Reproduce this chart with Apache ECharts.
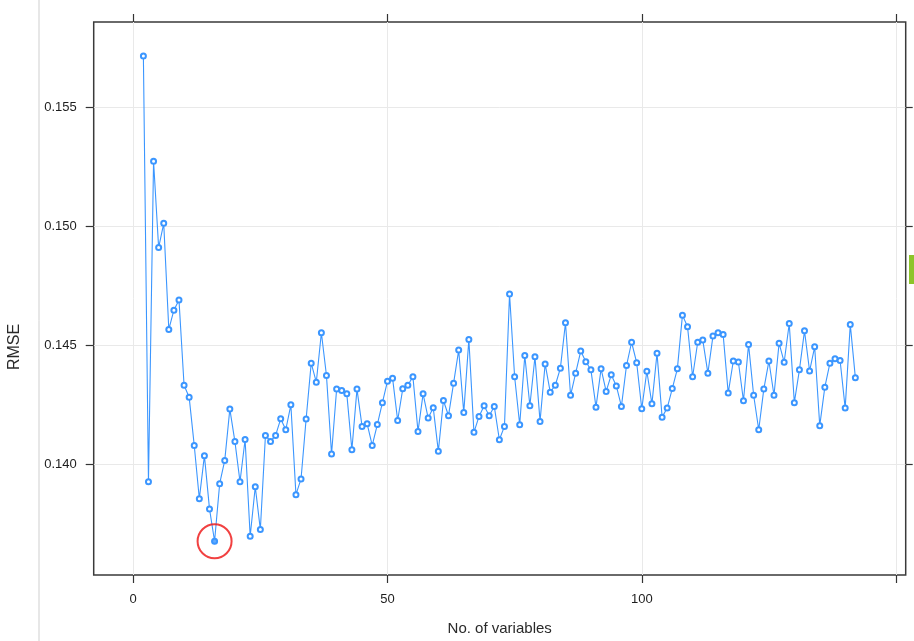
<!DOCTYPE html>
<html>
<head>
<meta charset="utf-8">
<script src="https://cdn.jsdelivr.net/npm/echarts@6/dist/echarts.min.js"></script>
<style>
  html, body { margin: 0; padding: 0; background: #ffffff; }
  #chart { width: 914px; height: 641px; }
</style>
</head>
<body>
<div id="chart"></div>
<script>
// Number of variables used by each model
const numVariables = [
  2, 3, 4, 5, 6, 7, 8, 9, 10, 11, 12, 13, 14, 15, 16, 17, 18, 19, 20, 21,
  22, 23, 24, 25, 26, 27, 28, 29, 30, 31, 32, 33, 34, 35, 36, 37, 38, 39, 40, 41,
  42, 43, 44, 45, 46, 47, 48, 49, 50, 51, 52, 53, 54, 55, 56, 57, 58, 59, 60, 61,
  62, 63, 64, 65, 66, 67, 68, 69, 70, 71, 72, 73, 74, 75, 76, 77, 78, 79, 80, 81,
  82, 83, 84, 85, 86, 87, 88, 89, 90, 91, 92, 93, 94, 95, 96, 97, 98, 99, 100, 101,
  102, 103, 104, 105, 106, 107, 108, 109, 110, 111, 112, 113, 114, 115, 116, 117, 118, 119, 120, 121,
  122, 123, 124, 125, 126, 127, 128, 129, 130, 131, 132, 133, 134, 135, 136, 137, 138, 139, 140, 141,
  142
];

// Cross-validated RMSE for each subset size
const rmseValues = [
  0.15716, 0.13925, 0.15273, 0.14910, 0.15012, 0.14566, 0.14647, 0.14690, 0.14331, 0.14281,
  0.14078, 0.13854, 0.14035, 0.13811, 0.13675, 0.13917, 0.14015, 0.14231, 0.14094, 0.13925,
  0.14103, 0.13696, 0.13904, 0.13724, 0.14120, 0.14095, 0.14120, 0.14190, 0.14144, 0.14249,
  0.13871, 0.13937, 0.14189, 0.14424, 0.14344, 0.14552, 0.14372, 0.14042, 0.14315, 0.14309,
  0.14295, 0.14060, 0.14315, 0.14158, 0.14169, 0.14078, 0.14166, 0.14258, 0.14348, 0.14361,
  0.14183, 0.14316, 0.14331, 0.14367, 0.14137, 0.14295, 0.14193, 0.14236, 0.14053, 0.14267,
  0.14203, 0.14340, 0.14479, 0.14216, 0.14524, 0.14133, 0.14200, 0.14245, 0.14203, 0.14242,
  0.14102, 0.14158, 0.14715, 0.14367, 0.14165, 0.14456, 0.14245, 0.14451, 0.14179, 0.14421,
  0.14302, 0.14331, 0.14403, 0.14594, 0.14289, 0.14382, 0.14475, 0.14430, 0.14396, 0.14239,
  0.14400, 0.14305, 0.14375, 0.14328, 0.14242, 0.14414, 0.14512, 0.14426, 0.14232, 0.14390,
  0.14253, 0.14466, 0.14197, 0.14235, 0.14317, 0.14400, 0.14626, 0.14577, 0.14367, 0.14512,
  0.14521, 0.14382, 0.14538, 0.14552, 0.14545, 0.14298, 0.14433, 0.14429, 0.14266, 0.14503,
  0.14289, 0.14144, 0.14315, 0.14433, 0.14289, 0.14508, 0.14428, 0.14591, 0.14258, 0.14396,
  0.14560, 0.14391, 0.14493, 0.14161, 0.14323, 0.14424, 0.14443, 0.14435, 0.14235, 0.14587,
  0.14363
];

// Axis ticks and labels
const xTickValues = [0, 50, 100, 150];
const xLabelValues = [0, 50, 100];
const yTickValues = [0.140, 0.145, 0.150, 0.155];

const xMin = -7.77, xMax = 151.9;
const yMin = 0.13533, yMax = 0.15859;

const lineColor = '#3b96ff';
const fontFamily = '"Liberation Sans", Arial, sans-serif';

const points = numVariables.map((n, i) => [n, rmseValues[i]]);

// Best (lowest RMSE) subset size
let bestIdx = 0;
rmseValues.forEach((v, i) => { if (v < rmseValues[bestIdx]) bestIdx = i; });
const bestPoint = [numVariables[bestIdx], rmseValues[bestIdx]];

const chart = echarts.init(document.getElementById('chart'), null, { renderer: 'canvas' });

const tickStyle = { color: '#333333', width: 1.2 };

chart.setOption({
  animation: false,
  backgroundColor: '#ffffff',
  grid: {
    left: 93.7, top: 22, right: 8.3, bottom: 65,
    show: true, borderColor: '#3a3a3a', borderWidth: 1.5, backgroundColor: '#ffffff'
  },
  xAxis: [
    {
      type: 'value', position: 'bottom', min: xMin, max: xMax,
      axisLine: { show: false, onZero: false },
      axisTick: { show: true, inside: false, length: 8, lineStyle: tickStyle, customValues: xTickValues },
      axisLabel: { show: true, customValues: xLabelValues, margin: 18, fontSize: 13, color: '#1e1e1e', fontFamily },
      splitLine: { show: true, lineStyle: { color: '#e9e9e9', width: 1 } },
      name: 'No. of variables', nameLocation: 'middle', nameGap: 46,
      nameTextStyle: { fontSize: 15, color: '#2a2a2a', fontFamily }
    },
    {
      type: 'value', position: 'top', min: xMin, max: xMax,
      axisLine: { show: false, onZero: false },
      axisTick: { show: true, inside: false, length: 8, lineStyle: tickStyle, customValues: xTickValues },
      axisLabel: { show: false },
      splitLine: { show: false }
    }
  ],
  yAxis: [
    {
      type: 'value', position: 'left', min: yMin, max: yMax,
      axisLine: { show: false, onZero: false },
      axisTick: { show: true, inside: false, length: 8, lineStyle: tickStyle, customValues: yTickValues },
      axisLabel: {
        show: true, customValues: yTickValues, margin: 17, fontSize: 13, color: '#1e1e1e', fontFamily,
        formatter: v => v.toFixed(3)
      },
      splitLine: { show: true, lineStyle: { color: '#e9e9e9', width: 1 } }
    },
    {
      type: 'value', position: 'right', min: yMin, max: yMax,
      axisLine: { show: false, onZero: false },
      axisTick: { show: true, inside: false, length: 7, lineStyle: tickStyle, customValues: yTickValues },
      axisLabel: { show: false },
      splitLine: { show: false }
    }
  ],
  series: [
    {
      type: 'line',
      data: points,
      xAxisIndex: 0, yAxisIndex: 0,
      symbol: 'emptyCircle', symbolSize: 5, showSymbol: true,
      lineStyle: { color: lineColor, width: 1.1 },
      itemStyle: { color: lineColor, borderColor: lineColor, borderWidth: 0.9 },
      z: 3
    },
    {
      // highlighted optimum
      type: 'scatter',
      data: [bestPoint],
      symbol: 'circle', symbolSize: 6,
      itemStyle: { color: lineColor },
      z: 4
    },
    {
      // ring around the optimum
      type: 'scatter',
      data: [bestPoint],
      symbol: 'circle', symbolSize: 34,
      itemStyle: { color: 'rgba(0,0,0,0)', borderColor: '#ee1111', borderWidth: 2 },
      z: 5
    }
  ],
  graphic: [
    {
      type: 'text', x: 15, y: 347, rotation: Math.PI / 2,
      style: { text: 'RMSE', fontSize: 16, fill: '#2a2a2a', fontFamily, align: 'center', verticalAlign: 'middle' }
    },
    {
      type: 'line', shape: { x1: 39, y1: 0, x2: 39, y2: 641 },
      style: { stroke: '#cfcfcf', lineWidth: 1 }
    },
    {
      type: 'rect', shape: { x: 909, y: 255, width: 5, height: 29 },
      style: { fill: '#8dc42a' }
    }
  ]
});
</script>
</body>
</html>
